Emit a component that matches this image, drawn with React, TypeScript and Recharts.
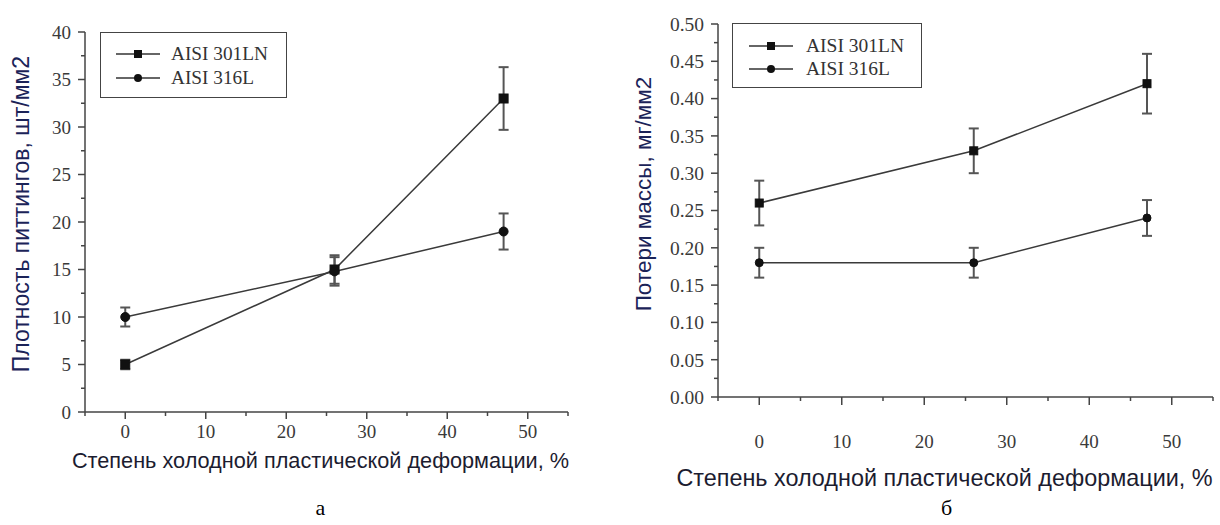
import React from 'react';
import { LineChart, Line, XAxis, YAxis, ErrorBar, Legend, Label } from 'recharts';

// ---- data ----
const strain = [0, 26, 47];
const density301LN = [5, 15, 33];
const density301LNErr = [0.5, 1.5, 3.3];
const density316L = [10, 14.8, 19];
const density316LErr = [1, 1.5, 1.9];
const massLoss301LN = [0.26, 0.33, 0.42];
const massLoss301LNErr = [0.03, 0.03, 0.04];
const massLoss316L = [0.18, 0.18, 0.24];
const massLoss316LErr = [0.02, 0.02, 0.024];

const seriesNames = ['AISI 301LN', 'AISI 316L'];
const xTicks = [-5, 0, 5, 10, 15, 20, 25, 30, 35, 40, 45, 50, 55];
const densityTicks = [0, 2.5, 5, 7.5, 10, 12.5, 15, 17.5, 20, 22.5, 25, 27.5, 30, 32.5, 35, 37.5, 40];
const massTicks = [0, 0.025, 0.05, 0.075, 0.1, 0.125, 0.15, 0.175, 0.2, 0.225, 0.25, 0.275, 0.3, 0.325, 0.35, 0.375, 0.4, 0.425, 0.45, 0.475, 0.5];

const xTitle = 'Степень холодной пластической деформации, %';
const densityTitle = 'Плотность питтингов, шт/мм2';
const massTitle = 'Потери массы, мг/мм2';

const densityData = strain.map((x, i) => ({
  x,
  a: density301LN[i],
  aErr: density301LNErr[i],
  b: density316L[i],
  bErr: density316LErr[i],
}));
const massData = strain.map((x, i) => ({
  x,
  a: massLoss301LN[i],
  aErr: massLoss301LNErr[i],
  b: massLoss316L[i],
  bErr: massLoss316LErr[i],
}));

const AXIS = '#444';
const TICK_TEXT = '#3a3a3a';
const SERIF = '"Liberation Serif", "Times New Roman", serif';
const SANS = '"Liberation Sans", Arial, sans-serif';

const isMajor = (v: number, step: number) => Math.abs(v / step - Math.round(v / step)) < 1e-6;

const makeYTick = (step: number, majorLen: number, minorLen: number, gap: number, fontSize: number, fmt: (v: number) => string) =>
  (props: any) => {
    const { x, y, payload } = props;
    const v = payload.value;
    const major = isMajor(v, step);
    return (
      <g>
        <line x1={x - (major ? majorLen : minorLen)} x2={x} y1={y} y2={y} stroke={AXIS} strokeWidth={1.5} />
        {major && (
          <text x={x - gap} y={y} dy="0.35em" textAnchor="end" fontFamily={SERIF} fontSize={fontSize} fill={TICK_TEXT}>
            {fmt(v)}
          </text>
        )}
      </g>
    );
  };

const makeXTick = (majorLen: number, minorLen: number, gap: number, fontSize: number) =>
  (props: any) => {
    const { x, y, payload } = props;
    const v = payload.value;
    const major = isMajor(v, 10);
    return (
      <g>
        <line x1={x} x2={x} y1={y} y2={y + (major ? majorLen : minorLen)} stroke={AXIS} strokeWidth={1.5} />
        {major && (
          <text x={x} y={y + gap} dy="0.35em" textAnchor="middle" fontFamily={SERIF} fontSize={fontSize} fill={TICK_TEXT}>
            {v}
          </text>
        )}
      </g>
    );
  };

const SquareDot = (size: number) => (p: any) => {
  if (p.cx == null || p.cy == null) return <g key={p.key} />;
  return <rect key={p.key} x={p.cx - size / 2} y={p.cy - size / 2} width={size} height={size} fill="#111" stroke="#111" />;
};
const CircleDot = (r: number) => (p: any) => {
  if (p.cx == null || p.cy == null) return <g key={p.key} />;
  return <circle key={p.key} cx={p.cx} cy={p.cy} r={r} fill="#111" stroke="#111" />;
};

const makeLegend = (w: number, h: number, rowTop: number, rowGap: number, iconLeft: number, textLeft: number, fontSize: number) =>
  (props: any) => {
    const payload = props.payload || [];
    return (
      <div style={{ position: 'relative', width: w, height: h, border: `1.5px solid ${AXIS}`, boxSizing: 'border-box', background: '#fff' }}>
        {payload.map((item: any, i: number) => {
          const square = String(item.dataKey) === 'a';
          return (
            <div key={i} style={{ position: 'absolute', left: 0, top: rowTop + i * rowGap - 10, height: 20, width: w }}>
              <svg width={44} height={20} style={{ position: 'absolute', left: iconLeft, top: 0 }}>
                <line x1={0} x2={44} y1={10} y2={10} stroke="#333" strokeWidth={1.5} />
                {square ? <rect x={18} y={6} width={8} height={8} fill="#111" /> : <circle cx={22} cy={10} r={4} fill="#111" />}
              </svg>
              <span style={{ position: 'absolute', left: textLeft, top: 0, lineHeight: '20px', fontFamily: SERIF, fontSize, color: '#333', whiteSpace: 'nowrap' }}>
                {item.value}
              </span>
            </div>
          );
        })}
      </div>
    );
  };

const yTitle = (text: string, dx: number, cy: number, fontSize: number) => (props: any) => {
  const vb = props.viewBox || { x: 0, y: 0, width: 0, height: 0 };
  const x = vb.x + vb.width + dx;
  return (
    <text x={x} y={cy} transform={`rotate(-90 ${x} ${cy})`} textAnchor="middle" dominantBaseline="central" fontFamily={SANS} fontSize={fontSize} fill="#1b2358">
      {text}
    </text>
  );
};

const xTitleLabel = (text: string, dx: number, dy: number, fontSize: number, panel: string, panelDx: number, panelDy: number) => (props: any) => {
  const vb = props.viewBox || { x: 0, y: 0, width: 0, height: 0 };
  const cx = vb.x + vb.width / 2;
  return (
    <g>
      <text x={cx + dx} y={vb.y + dy} textAnchor="middle" dominantBaseline="central" fontFamily={SANS} fontSize={fontSize} fill="#1c1c30">
        {text}
      </text>
      <text x={cx + panelDx} y={vb.y + panelDy} textAnchor="middle" dominantBaseline="central" fontFamily={SERIF} fontSize={22} fill="#000">
        {panel}
      </text>
    </g>
  );
};

export default function App() {
  return (
    <div style={{ position: 'absolute', left: 0, top: 0, width: 1220, height: 525, background: '#fff', overflow: 'hidden' }}>
      <style>{'body{margin:0;background:#fff}'}</style>
      {/* left panel: pitting density */}
      <div style={{ position: 'absolute', left: 0, top: 0 }}>
        <LineChart width={610} height={525} data={densityData} margin={{ top: 32, right: 42, bottom: 112, left: 84 }}>
          <XAxis
            type="number"
            dataKey="x"
            domain={[-5, 55]}
            ticks={xTicks}
            interval={0}
            height={1}
            tickSize={0}
            tickMargin={0}
            tickLine={false}
            axisLine={{ stroke: AXIS, strokeWidth: 1.5 }}
            tick={makeXTick(7, 4, 19, 19)}
          >
            <Label content={xTitleLabel(xTitle, -6, 48, 21.7, 'а', -6, 95)} />
          </XAxis>
          <YAxis
            type="number"
            domain={[0, 40]}
            ticks={densityTicks}
            interval={0}
            width={1}
            tickSize={0}
            tickMargin={0}
            tickLine={false}
            axisLine={{ stroke: AXIS, strokeWidth: 1.5 }}
            tick={makeYTick(5, 7, 4, 14, 19, (v) => String(v))}
          >
            <Label content={yTitle(densityTitle, -64, 214, 23)} />
          </YAxis>
          <Legend
            layout="vertical"
            align="center"
            verticalAlign="middle"
            wrapperStyle={{ left: 100, top: 32, width: 187 }}
            content={makeLegend(187, 66, 21, 24, 15, 70, 19.3)}
          />
          <Line type="linear" dataKey="a" name={seriesNames[0]} stroke="#3a3a3a" strokeWidth={1.5} dot={SquareDot(9)} isAnimationActive={false}>
            <ErrorBar dataKey="aErr" direction="y" width={5} stroke="#555" strokeWidth={2} />
          </Line>
          <Line type="linear" dataKey="b" name={seriesNames[1]} stroke="#3a3a3a" strokeWidth={1.5} dot={CircleDot(4.5)} isAnimationActive={false}>
            <ErrorBar dataKey="bErr" direction="y" width={5} stroke="#555" strokeWidth={2} />
          </Line>
        </LineChart>
      </div>
      {/* right panel: mass loss */}
      <div style={{ position: 'absolute', left: 610, top: 0 }}>
        <LineChart width={610} height={525} data={massData} margin={{ top: 24, right: 7, bottom: 127, left: 107 }}>
          <XAxis
            type="number"
            dataKey="x"
            domain={[-5, 55]}
            ticks={xTicks}
            interval={0}
            height={1}
            tickSize={0}
            tickMargin={0}
            tickLine={false}
            axisLine={{ stroke: AXIS, strokeWidth: 1.5 }}
            tick={makeXTick(8, 4, 44, 19)}
          >
            <Label content={xTitleLabel(xTitle, -21, 81, 23.4, 'б', -19, 110)} />
          </XAxis>
          <YAxis
            type="number"
            domain={[0, 0.5]}
            ticks={massTicks}
            interval={0}
            width={1}
            tickSize={0}
            tickMargin={0}
            tickLine={false}
            axisLine={{ stroke: AXIS, strokeWidth: 1.5 }}
            tick={makeYTick(0.05, 7, 4, 14, 19.5, (v) => v.toFixed(2))}
          >
            <Label content={yTitle(massTitle, -75, 194, 22.5)} />
          </YAxis>
          <Legend
            layout="vertical"
            align="center"
            verticalAlign="middle"
            wrapperStyle={{ left: 122, top: 23, width: 190 }}
            content={makeLegend(190, 65, 22, 23, 16, 73, 19.5)}
          />
          <Line type="linear" dataKey="a" name={seriesNames[0]} stroke="#3a3a3a" strokeWidth={1.5} dot={SquareDot(8)} isAnimationActive={false}>
            <ErrorBar dataKey="aErr" direction="y" width={5} stroke="#555" strokeWidth={2} />
          </Line>
          <Line type="linear" dataKey="b" name={seriesNames[1]} stroke="#3a3a3a" strokeWidth={1.5} dot={CircleDot(4)} isAnimationActive={false}>
            <ErrorBar dataKey="bErr" direction="y" width={5} stroke="#555" strokeWidth={2} />
          </Line>
        </LineChart>
      </div>
    </div>
  );
}
